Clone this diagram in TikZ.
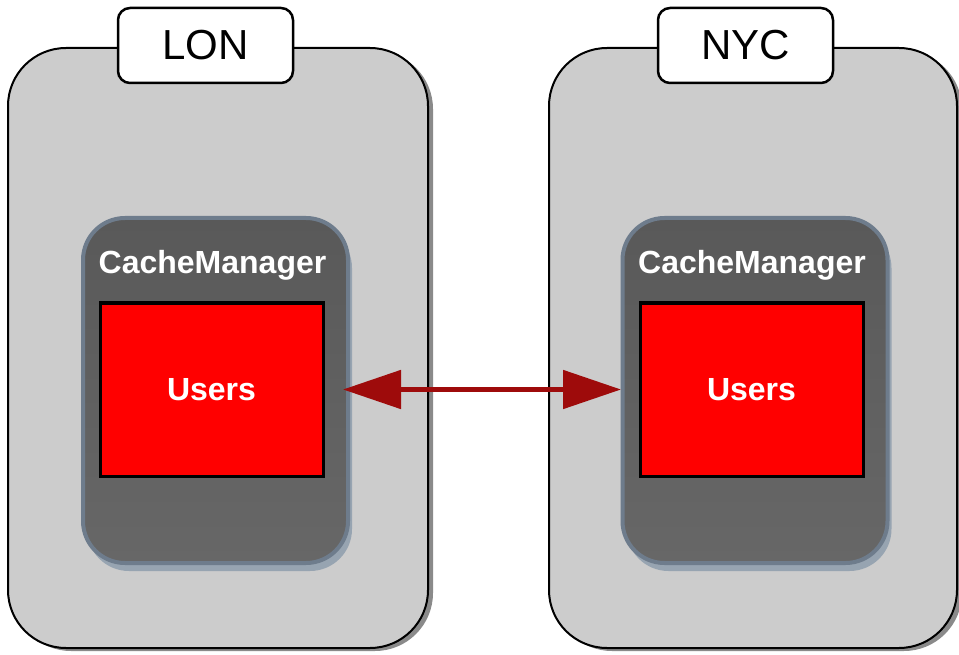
\documentclass[tikz,border=0pt]{standalone}
\usepackage{fontspec}
\setmainfont{Liberation Sans}
\usetikzlibrary{arrows.meta,shadows}
\definecolor{outerfill}{HTML}{CCCCCC}
\definecolor{outershadow}{HTML}{8A8A8A}
\definecolor{cmtop}{HTML}{595959}
\definecolor{cmbot}{HTML}{676767}
\definecolor{cmborder}{HTML}{6E7C8C}
\definecolor{cmshadow}{HTML}{97A4B1}
\definecolor{arrowred}{HTML}{9E0B0B}
\begin{document}
\begin{tikzpicture}[x=1pt,y=-1pt,
  site/.style={draw=black, line width=2pt, fill=outerfill, rounded corners=58pt, inner sep=0pt,
    drop shadow={shadow xshift=5pt, shadow yshift=-3pt, fill=outershadow, opacity=1}},
  sitelabel/.style={draw=black, line width=2.5pt, fill=white, rounded corners=12pt, inner sep=0pt,
    minimum width=175pt, minimum height=75pt, font=\fontsize{42}{50}\selectfont},
  cmbox/.style={draw=cmborder, line width=4pt, top color=cmtop, bottom color=cmbot, rounded corners=42pt,
    inner sep=0pt, minimum width=265pt, minimum height=345pt,
    drop shadow={shadow xshift=4pt, shadow yshift=-8pt, fill=cmshadow, opacity=1}},
  cmtext/.style={text=white, font=\bfseries\fontsize{32}{38}\selectfont, inner sep=0pt},
  cachebox/.style={draw=black, line width=3pt, fill=red, inner sep=0pt,
    minimum width=223pt, minimum height=173pt, text=white, font=\bfseries\fontsize{32}{38}\selectfont},
  link/.style={draw=arrowred, line width=5pt,
    {Triangle[length=58pt,width=38pt]}-{Triangle[length=58pt,width=38pt]}}
]
\useasboundingbox[fill=white] (0,0) rectangle (959,655);

% sites
\node[site, minimum width=420pt, minimum height=600pt] (lon) at (218,348) {};
\node[site, minimum width=408pt, minimum height=600pt] (nyc) at (753,348) {};
\node[sitelabel] (lonlabel) at (205.5,45.5) {LON};
\node[sitelabel] (nyclabel) at (745.5,45.5) {NYC};

% cache managers
\node[cmbox] (cmL) at (215.5,390.5) {};
\node[cmbox] (cmR) at (755,390.5) {};
\node[cmtext] (cmLt) at (212.5,265) {CacheManager};
\node[cmtext] (cmRt) at (752,265) {CacheManager};

% caches
\node[cachebox] (uL) at (211.5,389.5) {Users};
\node[cachebox] (uR) at (751.5,389.5) {Users};

% replication link
\draw[link, shorten <=18.5pt, shorten >=17.5pt] (uL.east) -- (uR.west);
\end{tikzpicture}
\end{document}
